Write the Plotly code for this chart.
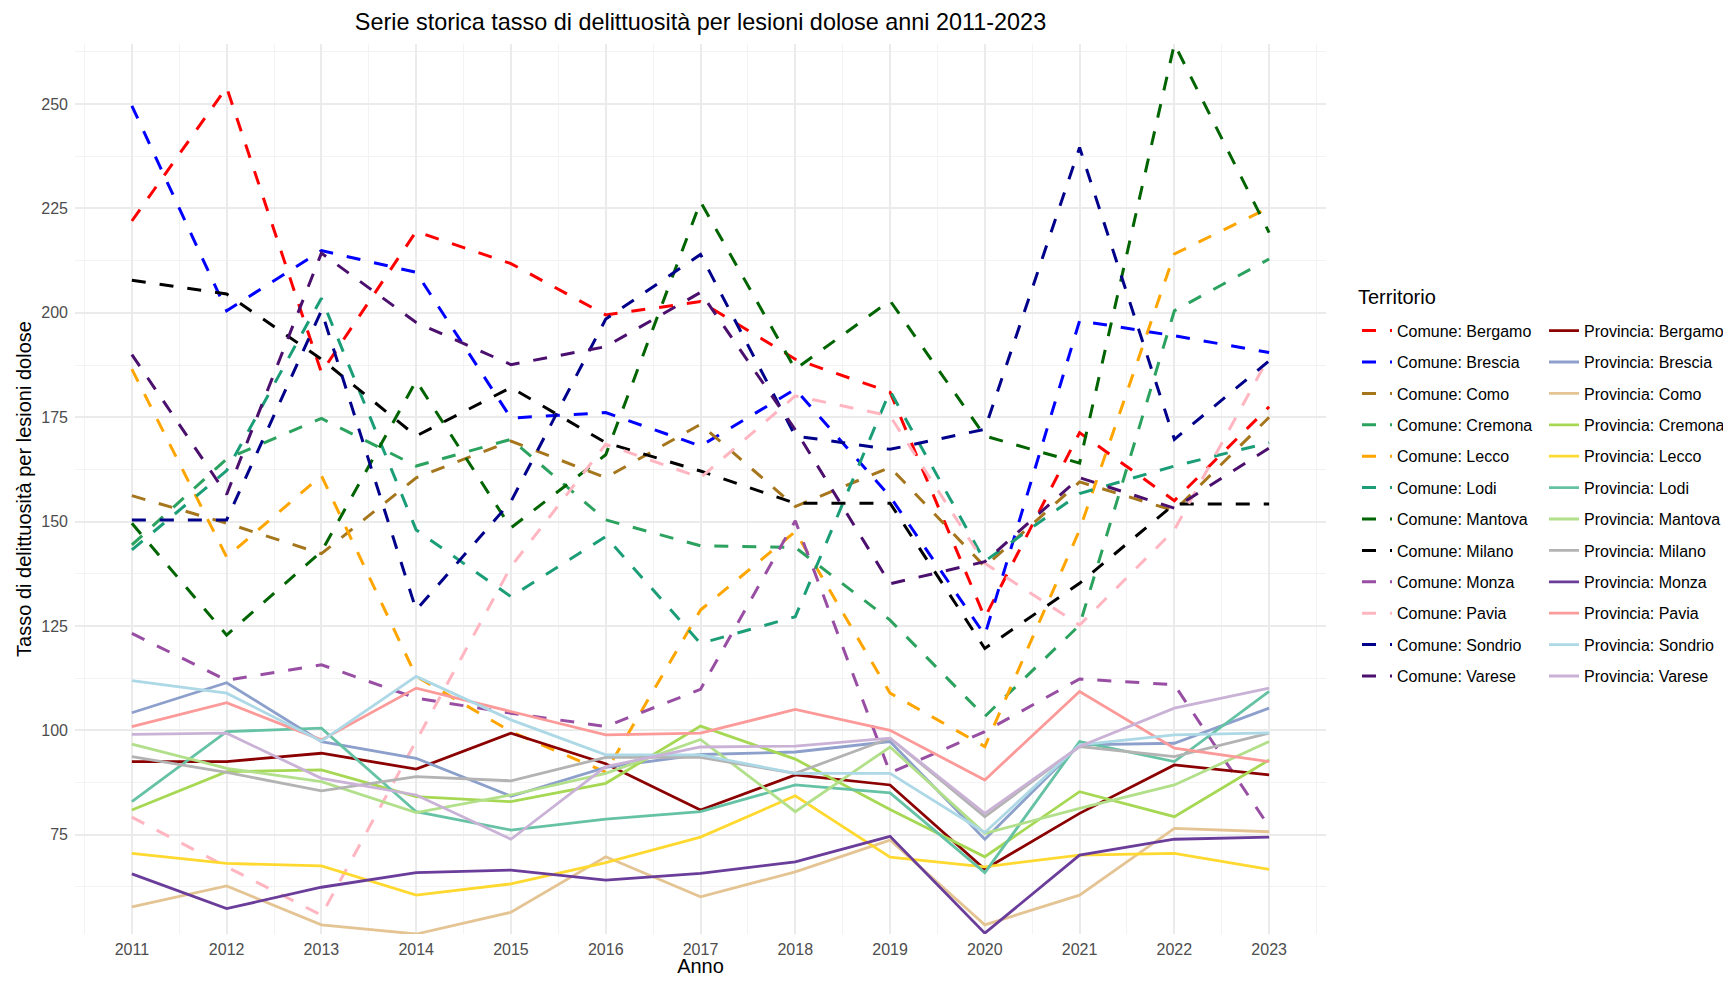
import plotly.graph_objects as go

years = list(range(2011, 2024))

territories = ["Bergamo", "Brescia", "Como", "Cremona", "Lecco", "Lodi",
               "Mantova", "Milano", "Monza", "Pavia", "Sondrio", "Varese"]

# Comune (city) rates, 2011-2023
comune_bergamo = [222.0, 254.0, 185.7, 219.5, 211.8, 199.5, 202.7, 188.9, 181.0, 127.0, 171.3, 155.0, 177.5]
comune_brescia = [249.6, 200.5, 214.9, 209.7, 174.8, 176.1, 168.1, 181.7, 156.0, 122.8, 198.1, 194.5, 190.5]
comune_como = [156.2, 149.6, 142.3, 160.5, 169.3, 160.5, 173.3, 153.6, 163.0, 139.2, 159.5, 152.6, 175.0]
comune_cremona = [144.4, 165.0, 174.7, 163.3, 169.7, 150.4, 144.2, 143.8, 126.4, 103.3, 125.2, 200.5, 212.9]
comune_lecco = [186.5, 141.5, 161.0, 112.9, 99.7, 90.0, 128.8, 147.6, 108.9, 96.1, 148.0, 214.1, 225.2]
comune_lodi = [143.2, 162.2, 203.5, 148.0, 132.0, 146.4, 120.8, 127.2, 181.3, 140.5, 156.7, 163.3, 168.9]
comune_mantova = [149.6, 122.8, 142.8, 183.7, 148.5, 166.0, 226.6, 186.5, 202.9, 170.5, 164.0, 264.4, 219.2]
comune_milano = [207.8, 204.5, 188.9, 170.5, 182.1, 168.9, 162.1, 154.4, 154.4, 119.6, 135.2, 154.2, 154.2]
comune_monza = [123.2, 112.0, 115.7, 107.7, 104.1, 100.9, 109.8, 150.2, 89.8, 99.7, 112.3, 110.9, 76.9]
comune_pavia = [79.2, 67.3, 55.7, 97.5, 139.2, 168.5, 160.5, 180.1, 175.3, 140.0, 125.2, 148.0, 189.5]
comune_sondrio = [150.4, 150.4, 200.5, 128.8, 154.8, 198.5, 214.0, 170.5, 167.3, 172.1, 239.6, 169.7, 188.5]
comune_varese = [190.0, 156.5, 214.3, 197.7, 187.6, 191.9, 204.9, 172.0, 135.1, 140.4, 160.5, 153.2, 167.6]

# Provincia rates, 2011-2023
prov_bergamo = [92.5, 92.5, 94.5, 90.7, 99.3, 92.0, 80.9, 89.3, 86.9, 66.7, 80.1, 91.7, 89.3]
prov_brescia = [104.2, 111.4, 97.3, 93.3, 84.2, 91.1, 94.2, 94.8, 97.3, 73.9, 96.5, 96.9, 105.3]
prov_como = [57.7, 62.7, 53.4, 51.2, 56.4, 69.7, 60.1, 66.1, 73.7, 53.4, 60.5, 76.5, 75.7]
prov_cremona = [80.9, 90.1, 90.5, 84.1, 82.9, 87.3, 101.0, 93.1, 81.0, 69.7, 85.3, 79.3, 92.9]
prov_lecco = [70.5, 68.1, 67.5, 60.5, 63.2, 68.3, 74.4, 84.3, 69.6, 67.3, 70.1, 70.5, 66.7]
prov_lodi = [82.9, 99.7, 100.5, 80.5, 76.1, 78.7, 80.5, 86.9, 85.0, 65.9, 97.3, 92.5, 109.3]
prov_mantova = [96.7, 90.9, 87.7, 80.3, 84.5, 89.7, 97.8, 80.5, 96.0, 75.3, 81.3, 86.9, 97.3]
prov_milano = [93.7, 89.9, 85.5, 88.9, 87.9, 93.5, 93.5, 89.7, 98.1, 79.3, 96.1, 93.7, 99.3]
prov_monza = [65.6, 57.3, 62.4, 65.9, 66.5, 64.1, 65.7, 68.5, 74.6, 51.4, 70.1, 73.9, 74.4]
prov_pavia = [100.9, 106.6, 97.7, 110.1, 104.5, 98.9, 99.3, 105.0, 100.0, 88.1, 109.3, 95.7, 92.5]
prov_sondrio = [111.9, 108.9, 97.4, 112.9, 102.5, 94.1, 94.1, 89.7, 89.7, 75.5, 96.5, 98.9, 99.4]
prov_varese = [99.0, 99.3, 88.5, 84.5, 73.9, 91.3, 96.0, 96.2, 98.1, 80.1, 96.1, 105.3, 110.1]

comune_values = [comune_bergamo, comune_brescia, comune_como, comune_cremona, comune_lecco,
                 comune_lodi, comune_mantova, comune_milano, comune_monza, comune_pavia,
                 comune_sondrio, comune_varese]
prov_values = [prov_bergamo, prov_brescia, prov_como, prov_cremona, prov_lecco, prov_lodi,
               prov_mantova, prov_milano, prov_monza, prov_pavia, prov_sondrio, prov_varese]

comune_colors = ["#FF0000", "#0000FF", "#A6761D", "#2CA25F", "#FFA500", "#1B9E77",
                 "#006400", "#000000", "#984EA3", "#FFB6C1", "#00008B", "#4B0F6E"]
prov_colors = ["#8B0000", "#8DA0CB", "#E5C494", "#A6D854", "#FFD92F", "#66C2A5",
               "#B2DF8A", "#B3B3B3", "#6A3D9A", "#FB9A99", "#ADD8E6", "#CAB2D6"]

# page body has an 8px margin: figure coordinates = page coordinates - 8
OFF = 8
W, H = 1731 - 2 * OFF, 985 - 2 * OFF
L, R, T, B = 75 - OFF, 1326 - OFF, 44 - OFF, 934 - OFF  # plot area in figure px
FONT = "Liberation Sans, Arial, sans-serif"

fig = go.Figure()
for name, vals, col in zip(territories, comune_values, comune_colors):
    fig.add_trace(go.Scatter(
        x=years, y=vals, mode="lines", name="Comune: " + name,
        legendgroup="c_" + name, legend="legend",
        line=dict(color=col, width=3, dash="14px,14px")))
for name, vals, col in zip(territories, prov_values, prov_colors):
    fig.add_trace(go.Scatter(
        x=years, y=vals, mode="lines", name="Provincia: " + name,
        legendgroup="p_" + name, legend="legend2",
        line=dict(color=col, width=2.8)))


def px_x(p):
    return (p - L) / (R - L)


def px_y(p):
    return (B - p) / (B - T)


grid_major = "#EBEBEB"
grid_minor = "#F3F3F3"
legend_top = 313.7 - OFF

fig.update_layout(
    width=W, height=H,
    margin=dict(l=L, r=W - R, t=T, b=H - B, autoexpand=False),
    paper_bgcolor="white", plot_bgcolor="white",
    font=dict(family=FONT, size=16, color="#000000"),
    title=dict(text="Serie storica tasso di delittuosità per lesioni dolose anni 2011-2023",
               x=px_x((L + R) / 2), xref="paper", xanchor="center",
               y=1 - (22 - OFF) / H, yref="container", yanchor="middle",
               font=dict(size=23.4, color="#000000", family=FONT)),
    xaxis=dict(range=[2010.4, 2023.6], tickmode="array", tickvals=years,
               ticktext=[str(y) for y in years],
               showgrid=True, gridcolor=grid_major, gridwidth=1.6,
               zeroline=False, showline=False, ticks="",
               tickfont=dict(size=16, color="#4D4D4D", family=FONT),
               ticklabelstandoff=4,
               minor=dict(dtick=0.5, tick0=2010.5, showgrid=True, gridcolor=grid_minor, gridwidth=0.8),
               title=dict(text="Anno", font=dict(size=20, color="#000000", family=FONT), standoff=15)),
    yaxis=dict(range=[51.2, 264.4], tickmode="linear", tick0=75, dtick=25,
               showgrid=True, gridcolor=grid_major, gridwidth=1.6,
               zeroline=False, showline=False, ticks="",
               tickfont=dict(size=16, color="#4D4D4D", family=FONT),
               ticklabelstandoff=6,
               minor=dict(dtick=12.5, tick0=62.5, showgrid=True, gridcolor=grid_minor, gridwidth=0.8),
               title=dict(text="Tasso di delittuosità per lesioni dolose",
                          font=dict(size=20, color="#000000", family=FONT), standoff=4)),
    legend=dict(x=px_x(1357 - OFF), xanchor="left", y=px_y(legend_top), yanchor="top",
                font=dict(size=16, color="#000000", family=FONT),
                tracegroupgap=7.6, bgcolor="rgba(0,0,0,0)", itemwidth=30),
    legend2=dict(x=px_x(1544 - OFF), xanchor="left", y=px_y(legend_top), yanchor="top",
                 font=dict(size=16, color="#000000", family=FONT),
                 tracegroupgap=7.6, bgcolor="rgba(0,0,0,0)", itemwidth=30),
    showlegend=True,
    annotations=[dict(text="Territorio", xref="paper", yref="paper",
                      x=px_x(1356 - OFF), y=px_y(297 - OFF), xanchor="left", yanchor="middle",
                      showarrow=False, font=dict(size=20, color="#000000", family=FONT))],
)

fig.write_html("out.html")
